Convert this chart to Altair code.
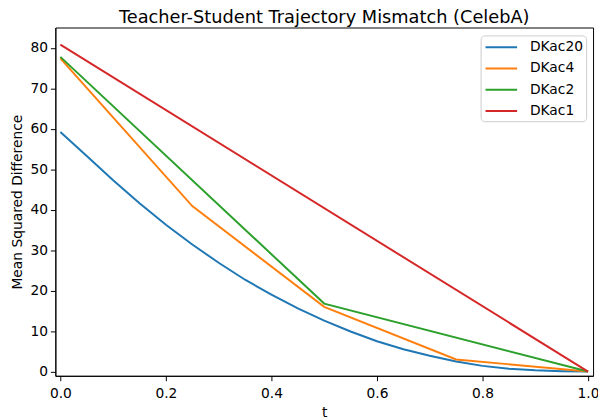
import altair as alt
import pandas as pd

series_names = ["DKac20", "DKac4", "DKac2", "DKac1"]
colors = ["#1f77b4", "#ff7f0e", "#2ca02c", "#d62728"]

t_dkac20 = [0.0, 0.05, 0.1, 0.15, 0.2, 0.25, 0.3, 0.35, 0.4, 0.45, 0.5,
            0.55, 0.6, 0.65, 0.7, 0.75, 0.8, 0.85, 0.9, 0.95, 1.0]
v_dkac20 = [59.2, 53.3, 47.3, 41.6, 36.3, 31.4, 26.9, 22.7, 19.0, 15.6, 12.6,
            9.9, 7.5, 5.5, 3.9, 2.5, 1.4, 0.7, 0.3, 0.1, 0.0]
t_dkac4 = [0.0, 0.25, 0.5, 0.75, 1.0]
v_dkac4 = [77.4, 40.9, 16.0, 3.0, 0.0]
t_dkac2 = [0.0, 0.5, 1.0]
v_dkac2 = [77.8, 16.8, 0.0]
t_dkac1 = [0.0, 1.0]
v_dkac1 = [80.8, 0.0]

rows = []
for name, ts, vs in [("DKac20", t_dkac20, v_dkac20), ("DKac4", t_dkac4, v_dkac4),
                     ("DKac2", t_dkac2, v_dkac2), ("DKac1", t_dkac1, v_dkac1)]:
    for t, v in zip(ts, vs):
        rows.append({"t": t, "value": v, "series": name})
df = pd.DataFrame(rows)

font = "DejaVu Sans"

chart = alt.Chart(df).mark_line(strokeWidth=2).encode(
    x=alt.X("t:Q", title="t",
            scale=alt.Scale(domain=[-0.0095, 1.0095], nice=False, zero=False),
            axis=alt.Axis(values=[0.0, 0.2, 0.4, 0.6, 0.8, 1.0], format=".1f",
                          grid=False, tickSize=5, tickColor="#000", domainColor="#000",
                          labelFontSize=14, titleFontSize=14, titleFontWeight="normal",
                          labelColor="#000", titleColor="#000", labelPadding=6,
                          titlePadding=5, labelFont=font, titleFont=font, labelFlush=False)),
    y=alt.Y("value:Q", title="Mean Squared Difference",
            scale=alt.Scale(domain=[-1.05, 85.05], nice=False, zero=False),
            axis=alt.Axis(values=list(range(0, 81, 10)), grid=False, tickSize=5,
                          tickColor="#000", domainColor="#000",
                          labelFontSize=14, titleFontSize=14, titleFontWeight="normal",
                          labelColor="#000", titleColor="#000", labelPadding=3,
                          titlePadding=6, labelFont=font, titleFont=font, labelFlush=False)),
    color=alt.Color("series:N", sort=series_names,
                    scale=alt.Scale(domain=series_names, range=colors),
                    legend=alt.Legend(title=None, orient="none", legendX=431, legendY=8,
                                      symbolType="M-0.875,0H3.125", symbolSize=256,
                                      symbolStrokeWidth=2, labelFontSize=14,
                                      labelFont=font, labelColor="#000",
                                      fillColor="white", strokeColor="#cccccc",
                                      cornerRadius=4, padding=3, rowPadding=5.5,
                                      labelOffset=29)),
    order=alt.Order("t:Q"),
).properties(
    width=545, height=353,
    title=alt.TitleParams("Teacher-Student Trajectory Mismatch (CelebA)",
                          fontSize=18, font=font, fontWeight="normal", color="#000",
                          offset=1),
    autosize=alt.AutoSizeParams(type="none"),
    padding={"left": 48, "top": 17, "right": 5, "bottom": 41},
).configure_view(stroke="#000", strokeWidth=1)

chart.save("out.html", embed_options={"renderer": "svg", "actions": False})
